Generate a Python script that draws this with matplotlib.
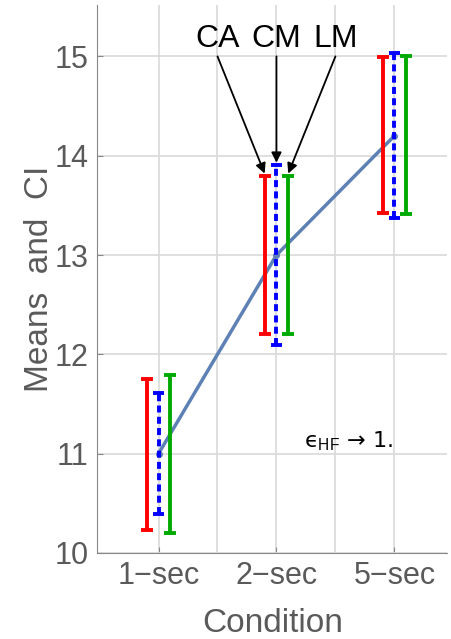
import numpy as np
import matplotlib
matplotlib.use("Agg")
import matplotlib.pyplot as plt

conditions = ["1\u2212sec", "2\u2212sec", "5\u2212sec"]
means = [11.0, 13.0, 14.2]
ca_low = [10.23, 12.2, 13.42]
ca_high = [11.75, 13.8, 14.99]
cm_low = [10.39, 12.09, 13.37]
cm_high = [11.61, 13.91, 15.03]
lm_low = [10.2, 12.2, 13.41]
lm_high = [11.79, 13.8, 15.0]
labels = ["CA", "CM", "LM"]

plt.rcParams['font.family'] = ['Liberation Sans', 'DejaVu Sans']
plt.rcParams['mathtext.fontset'] = 'custom'
plt.rcParams['mathtext.rm'] = 'Liberation Sans'
fig = plt.figure(figsize=(4.52, 6.39), dpi=100)
ax = fig.add_axes([0.215, 0.1346, 0.775, 0.858])

x = np.arange(1, len(conditions) + 1)
off = 0.1
grey = "#5a5a5a"

ax.plot(x, means, color="#5e81b5", lw=2.5, zorder=2)
ax.plot(x, means, "o", color="#5e81b5", ms=4, zorder=2)

def bars(xs, lo, hi, color, dashed=False):
    for xi, l, h in zip(xs, lo, hi):
        ln, = ax.plot([xi, xi], [l, h], color=color, lw=2.8, zorder=3,
                      solid_capstyle="butt", dash_capstyle="butt")
        if dashed:
            ln.set_dashes((1.8, 1.1))
        for y in (l, h):
            ax.plot([xi - 0.05, xi + 0.05], [y, y], color=color, lw=2.8, zorder=3,
                    solid_capstyle="butt")

bars(x - off, ca_low, ca_high, "#ff0000")
bars(x, cm_low, cm_high, "#0000ff", dashed=True)
bars(x + off, lm_low, lm_high, "#00aa00")

# labels with arrows pointing at the 2-sec bars
tips = [(2 - off, ca_high[1]), (2, cm_high[1]), (2 + off, lm_high[1])]
for lab, tx, tip in zip(labels, [1.5, 2.0, 2.5], tips):
    ax.text(tx, 15.09, lab, fontsize=23, ha="center", va="baseline")
    ax.annotate("", xy=(tip[0], tip[1] + 0.02), xytext=(tx, 15.0),
                arrowprops=dict(arrowstyle="-|>", color="black", lw=1.3,
                                mutation_scale=15, shrinkA=0, shrinkB=0))

ax.text(2.99, 11.06, "\u03f5$_{\\mathrm{HF}}$ \u2192 1.", fontsize=16,
        ha="right", va="baseline", family=['DejaVu Sans'])

ax.set_xlim(0.48, 3.45)
ax.set_ylim(10, 15.52)
ax.set_xticks(x)
ax.set_xticklabels(conditions)
ax.set_xticks([1.5, 2.5], minor=True)
ax.set_yticks(range(10, 16))
ax.grid(True, which="both", color="#d9d9d9", lw=1.2)
ax.set_axisbelow(True)
ax.tick_params(axis="both", which="both", direction="in", colors="#888888",
               labelsize=22, length=4, labelcolor=grey, pad=6)
ax.tick_params(axis="x", which="minor", length=0)
for s in ["top", "right"]:
    ax.spines[s].set_visible(False)
for s in ["left", "bottom"]:
    ax.spines[s].set_color("#888888")
ax.set_xlabel("Condition", fontsize=24, color=grey, labelpad=12)
ax.set_ylabel("Means  and  CI", fontsize=24, color=grey, labelpad=0)

fig.savefig("out.png", dpi=100)
